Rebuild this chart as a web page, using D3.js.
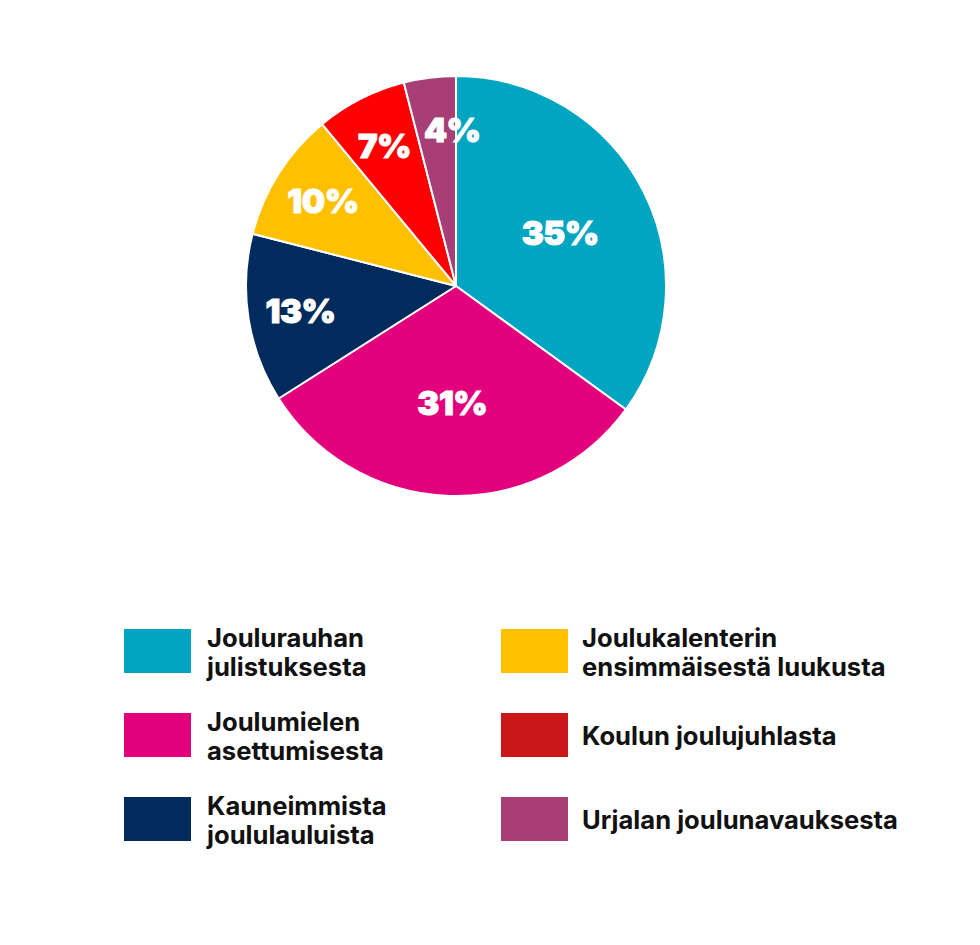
<!DOCTYPE html>
<html>
<head>
<meta charset="utf-8">
<script src="https://cdn.jsdelivr.net/npm/d3@7"></script>
<style>
  body { margin: 0; background: #fff; }
  svg { display: block; }
</style>
</head>
<body>
<div id="chart"></div>
<script>
// Data.
var categories = [
  ["Joulurauhan", "julistuksesta"],
  ["Joulumielen", "asettumisesta"],
  ["Kauneimmista", "joululauluista"],
  ["Joulukalenterin", "ensimmäisestä luukusta"],
  ["Koulun joulujuhlasta"],
  ["Urjalan joulunavauksesta"]
];
var values = [35, 31, 13, 10, 7, 4];
var sliceColors = ["#00a6c1", "#e3007d", "#002b5c", "#ffc000", "#ff0000", "#a73f76"];
var legendColors = ["#00a6c1", "#e3007d", "#002b5c", "#ffc000", "#cc1719", "#a73f76"];

var width = 980, height = 945;
var cx = 456, cy = 286, radius = 210;

var svg = d3.select("#chart")
  .append("svg")
    .attr("width", width)
    .attr("height", height);

var pie = d3.pie().sort(null).value(function(d){ return d; });
var arcs = pie(values);

var arc = d3.arc().innerRadius(0).outerRadius(radius);
var bigLabel = d3.arc().innerRadius(radius * 0.557).outerRadius(radius * 0.557);
var smallLabel = d3.arc().innerRadius(radius * 0.75).outerRadius(radius * 0.75);

var g = svg.append("g").attr("transform", "translate(" + cx + "," + cy + ")");

g.selectAll("path")
  .data(arcs)
  .enter()
  .append("path")
    .attr("d", arc)
    .attr("fill", function(d, i){ return sliceColors[i]; })
    .attr("stroke", "#fff")
    .attr("stroke-width", 2)
    .attr("stroke-linejoin", "round");

g.selectAll("text")
  .data(arcs)
  .enter()
  .append("text")
    .attr("transform", function(d){
      var c = (d.value >= 20 ? bigLabel : smallLabel).centroid(d);
      // smallest slice label sits a bit right, over the edge
      if (d.value < 5) c[0] += 16;
      return "translate(" + c[0] + "," + c[1] + ")";
    })
    .attr("text-anchor", "middle")
    .attr("dy", "0.36em")
    .attr("fill", "#fff")
    .attr("stroke", "#fff")
    .attr("stroke-width", 1)
    .style("font-family", "Inter, sans-serif")
    .style("font-weight", 900)
    .style("font-size", "33px")
    .style("letter-spacing", "-0.5px")
    .text(function(d){ return d.value + "%"; });

// Legend, two columns of three.
var colX = [124, 501];
var rowTop = 629, rowStep = 84;
var swW = 67, swH = 44, lineH = 29;

var items = svg.selectAll("g.legend")
  .data(categories)
  .enter()
  .append("g")
    .attr("class", "legend")
    .attr("transform", function(d, i){
      return "translate(" + colX[Math.floor(i / 3)] + "," + (rowTop + (i % 3) * rowStep) + ")";
    });

items.append("rect")
    .attr("width", swW)
    .attr("height", swH)
    .attr("fill", function(d, i){ return legendColors[i]; });

items.append("text")
    .attr("x", function(d, i){ return i < 3 ? 83 : 81; })
    .attr("y", function(d){ return swH / 2 + 10 - (d.length - 1) * lineH / 2; })
    .attr("fill", "#111")
    .style("font-family", "Inter, sans-serif")
    .style("font-weight", 700)
    .style("font-size", "25.6px")
  .selectAll("tspan")
  .data(function(d){ return d; })
  .enter()
  .append("tspan")
    .attr("x", function(){ return d3.select(this.parentNode).attr("x"); })
    .attr("dy", function(d, j){ return j === 0 ? 0 : lineH; })
    .text(function(d){ return d; });
</script>
</body>
</html>
